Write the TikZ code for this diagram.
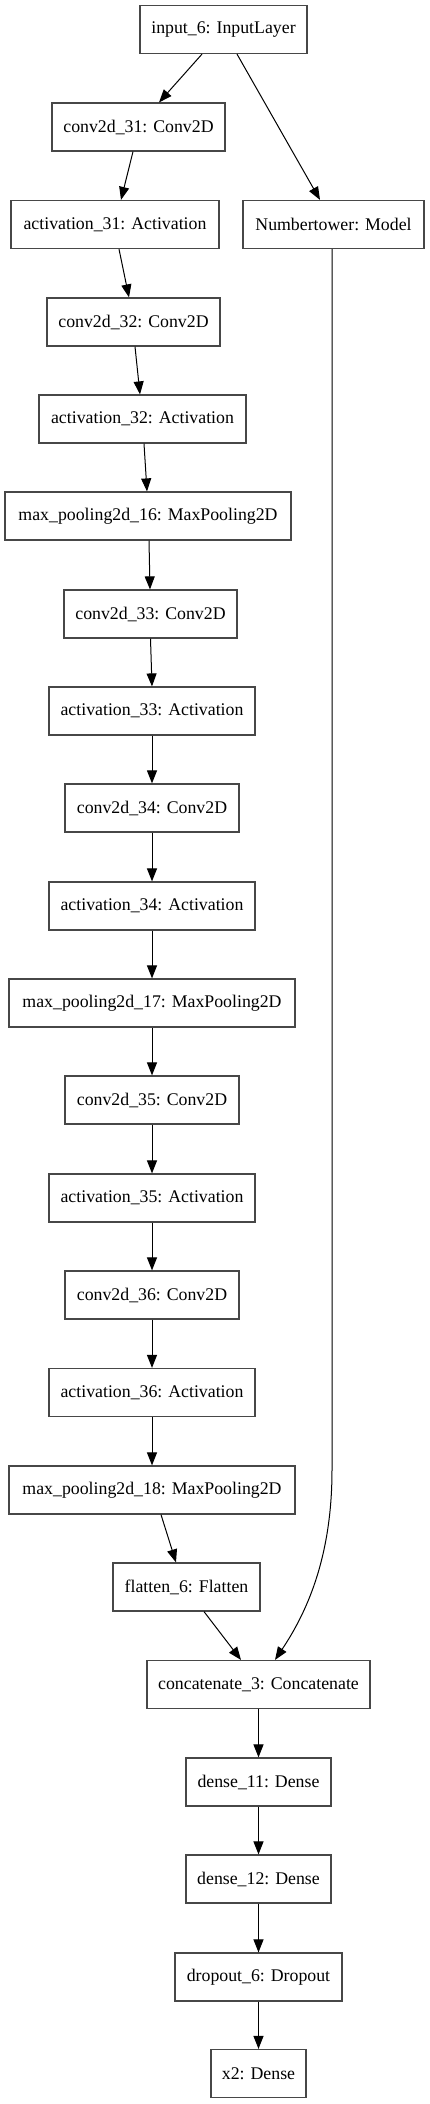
\documentclass[tikz,border=0pt]{standalone}
\usepackage{fontspec}
\setmainfont{Liberation Serif}
\usetikzlibrary{arrows.meta}
\begin{document}
\begin{tikzpicture}[x=1pt,y=-1pt,
  box/.style={draw=black!72, line width=1.2pt, minimum height=48pt, inner sep=0pt, anchor=center,
    font=\fontsize{17.8}{20}\selectfont},
  conn/.style={line width=1pt, -{Triangle[length=13pt,width=10pt]}}]
\useasboundingbox (0,0) rectangle (429,2104);
\fill[white] (0,0) rectangle (429,2104);
\node[box, minimum width=167pt] (in) at (223.5,29.5) {input\_6: InputLayer};
\node[box, minimum width=173pt] (c31) at (138.5,127) {conv2d\_31: Conv2D};
\node[box, minimum width=208pt] (a31) at (115,224.5) {activation\_31: Activation};
\node[box, minimum width=181pt] (nt) at (333.5,224.5) {Numbertower: Model};
\node[box, minimum width=173pt] (c32) at (133.5,322) {conv2d\_32: Conv2D};
\node[box, minimum width=207pt] (a32) at (142.5,419) {activation\_32: Activation};
\node[box, minimum width=286pt] (m16) at (148,516) {max\_pooling2d\_16: MaxPooling2D};
\node[box, minimum width=173pt] (c33) at (150.5,614) {conv2d\_33: Conv2D};
\node[box, minimum width=206pt] (a33) at (152,711) {activation\_33: Activation};
\node[box, minimum width=174pt] (c34) at (152,808) {conv2d\_34: Conv2D};
\node[box, minimum width=206pt] (a34) at (152,906) {activation\_34: Activation};
\node[box, minimum width=286pt] (m17) at (152,1003) {max\_pooling2d\_17: MaxPooling2D};
\node[box, minimum width=174pt] (c35) at (152,1100) {conv2d\_35: Conv2D};
\node[box, minimum width=206pt] (a35) at (152,1198) {activation\_35: Activation};
\node[box, minimum width=174pt] (c36) at (152,1295) {conv2d\_36: Conv2D};
\node[box, minimum width=206pt] (a36) at (152,1392.5) {activation\_36: Activation};
\node[box, minimum width=286pt] (m18) at (152,1490) {max\_pooling2d\_18: MaxPooling2D};
\node[box, minimum width=147pt] (fl) at (186.5,1587) {flatten\_6: Flatten};
\node[box, minimum width=223pt] (cc) at (258.5,1684.5) {concatenate\_3: Concatenate};
\node[box, minimum width=145pt] (d11) at (258.5,1782) {dense\_11: Dense};
\node[box, minimum width=145pt] (d12) at (258.5,1879) {dense\_12: Dense};
\node[box, minimum width=167pt] (do) at (258.5,1977) {dropout\_6: Dropout};
\node[box, minimum width=95pt] (x2) at (258.5,2073.5) {x2: Dense};

\draw[conn] ([xshift=-21.5pt]in.south) -- ([xshift=20.5pt]c31.north);
\draw[conn] ([xshift=13.5pt]in.south) -- ([xshift=-13.5pt]nt.north);
\draw[conn] ([xshift=-5.5pt]c31.south) -- ([xshift=6pt]a31.north);
\draw[conn] ([xshift=4pt]a31.south) -- ([xshift=-4.5pt]c32.north);
\draw[conn] ([xshift=1.5pt]c32.south) -- ([xshift=-2.5pt]a32.north);
\draw[conn] ([xshift=1.5pt]a32.south) -- ([xshift=-1pt]m16.north);
\draw[conn] ([xshift=1pt]m16.south) -- ([xshift=-0.5pt]c33.north);
\draw[conn] (c33.south) -- (a33.north);
\draw[conn] (a33) -- (c34);
\draw[conn] (c34) -- (a34);
\draw[conn] (a34) -- (m17);
\draw[conn] (m17) -- (c35);
\draw[conn] (c35) -- (a35);
\draw[conn] (a35) -- (c36);
\draw[conn] (c36) -- (a36);
\draw[conn] (a36) -- (m18);
\draw[conn] ([xshift=9pt]m18.south) -- ([xshift=-10.5pt]fl.north);
\draw[conn] ([xshift=17.5pt]fl.south) -- ([xshift=-17.5pt]cc.north);
\coordinate (k1) at (332,1470);
\draw[conn] ([xshift=-1.5pt]nt.south) -- (k1) .. controls (332,1560) and (305,1615) .. ([xshift=16.5pt]cc.north);
\draw[conn] (cc) -- (d11);
\draw[conn] (d11) -- (d12);
\draw[conn] (d12) -- (do);
\draw[conn] (do) -- (x2);
\end{tikzpicture}
\end{document}
